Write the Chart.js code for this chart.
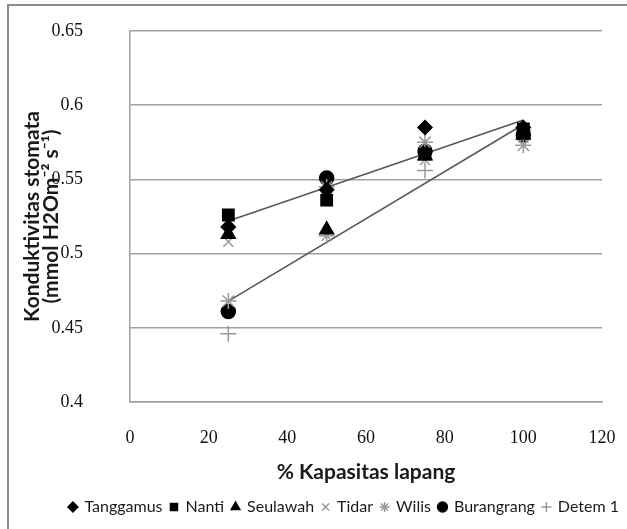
<!DOCTYPE html>
<html>
<head>
<meta charset="utf-8">
<script src="https://cdn.jsdelivr.net/npm/chart.js@4.4.1/dist/chart.umd.min.js"></script>
<style>
  body { margin: 0; background: #fff; }
  canvas { display: block; }
</style>
</head>
<body>
<canvas id="scatterChart" width="627" height="529"></canvas>
<script>
// kapasitas lapang (%)
const kapasitas = [25, 50, 75, 100];

// konduktivitas stomata per varietas
const tanggamus  = [0.518, 0.543, 0.585, 0.585];
const nanti      = [0.526, 0.536, 0.567, 0.584];
const seulawah   = [0.513, 0.516, 0.566, 0.580];
const tidar      = [0.508, 0.512, 0.563, 0.578];
const wilis      = [0.468, 0.545, 0.575, 0.573];
const burangrang = [0.461, 0.551, 0.569, 0.580];
const detem1     = [0.446, 0.512, 0.556, 0.583];

// garis tren
const trendX     = [25, 100];
const trendAtas  = [0.522, 0.590];
const trendBawah = [0.468, 0.587];

const xTicks = [0, 20, 40, 60, 80, 100, 120];
const yTicks = [0.4, 0.45, 0.5, 0.55, 0.6, 0.65];
const yTickLabels = ['0.4', '0.45', '0.5', '0.55', '0.6', '0.65'];

const toPoints = (xs, ys) => xs.map((x, i) => ({x: x, y: ys[i]}));

function series(label, values, style, color, radius) {
    return {
        label: label,
        data: toPoints(kapasitas, values),
        pointStyle: style,
        pointRadius: radius,
        backgroundColor: color,
        borderColor: color,
        borderWidth: 1.5
    };
}

function trend(values) {
    return {
        label: 'trend',
        data: toPoints(trendX, values),
        showLine: true,
        pointRadius: 0,
        borderColor: '#555555',
        borderWidth: 1.5,
        fill: false
    };
}

const frame = {
    id: 'frame',
    beforeDraw(chart) {
        const c = chart.ctx;
        c.save();
        c.fillStyle = '#fff';
        c.fillRect(0, 0, chart.width, chart.height);
        c.strokeStyle = '#8c8c8c';
        c.lineWidth = 2;
        c.beginPath();
        c.moveTo(8, chart.height);
        c.lineTo(8, 5);
        c.lineTo(chart.width, 5);
        c.stroke();
        c.restore();
    }
};

const ctx = document.getElementById('scatterChart').getContext('2d');
const myChart = new Chart(ctx, {
    type: 'scatter',
    data: {
        datasets: [
            series('Tanggamus', tanggamus, 'rectRot', '#000000', 7),
            series('Nanti', nanti, 'rect', '#000000', 8),
            series('Seulawah', seulawah, 'triangle', '#000000', 8),
            series('Tidar', tidar, 'crossRot', '#999999', 7),
            series('Wilis', wilis, 'star', '#999999', 8),
            series('Burangrang', burangrang, 'circle', '#000000', 7),
            series('Detem 1', detem1, 'cross', '#999999', 8),
            trend(trendAtas),
            trend(trendBawah)
        ]
    },
    options: {
        responsive: false,
        animation: false,
        layout: { padding: { top: 31, left: 0, right: 0, bottom: 4 } },
        plugins: {
            tooltip: { enabled: false },
            legend: {
                position: 'bottom',
                align: 'end',
                labels: {
                    usePointStyle: true,
                    boxWidth: 7,
                    boxHeight: 7,
                    padding: 8,
                    color: '#1a1a1a',
                    font: { family: 'Lato', size: 16 },
                    filter: item => item.datasetIndex < 7
                }
            }
        },
        scales: {
            x: {
                type: 'linear',
                min: 0,
                max: 120,
                afterBuildTicks: scale => { scale.ticks = xTicks.map(v => ({value: v})); },
                afterFit: scale => { scale.height = 89; scale.paddingRight = 25; },
                grid: { display: false },
                border: { color: '#a0a0a0', width: 1.5 },
                ticks: {
                    padding: 17,
                    color: '#111',
                    font: { family: 'Liberation Serif', size: 18 }
                },
                title: {
                    display: true,
                    text: '% Kapasitas lapang',
                    color: '#1a1a1a',
                    font: { family: 'Lato', size: 21, weight: 'bold' },
                    padding: { top: 0, bottom: 6 }
                }
            },
            y: {
                min: 0.4,
                max: 0.65,
                afterBuildTicks: scale => { scale.ticks = yTicks.map(v => ({value: v})); },
                afterFit: scale => {
                    scale.width = 130;
                    scale.paddingTop = 0;
                    scale.paddingBottom = 0;
                },
                grid: { color: '#a0a0a0', lineWidth: 1.5, drawTicks: false },
                border: { color: '#a0a0a0', width: 1.5 },
                ticks: {
                    padding: 47,
                    color: '#111',
                    font: { family: 'Liberation Serif', size: 18 },
                    callback: (v, i) => yTickLabels[i]
                },
                title: {
                    display: true,
                    text: ['Konduktivitas stomata', '(mmol H2Om\u207B\u00B2 s\u207B\u00B9)'],
                    color: '#1a1a1a',
                    font: { family: 'Lato', size: 21, weight: 'bold', lineHeight: 0.9 },
                    padding: { top: 23, bottom: 0 }
                }
            }
        }
    },
    plugins: [frame]
});
</script>
</body>
</html>
